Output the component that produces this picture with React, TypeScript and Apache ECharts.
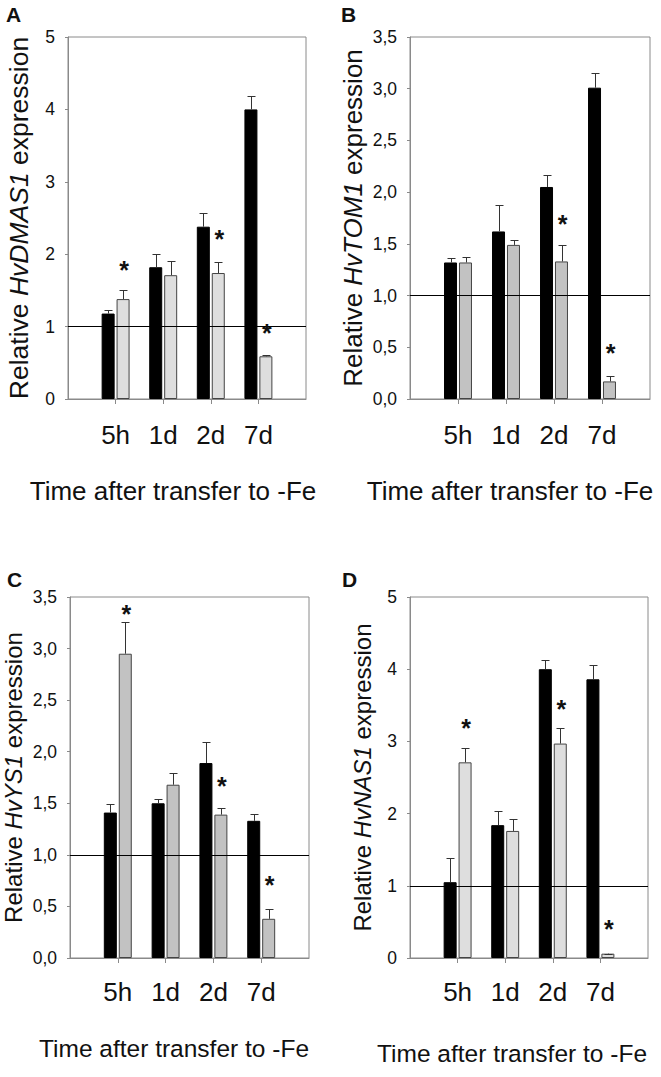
import React, { useEffect, useRef } from "react";
import * as echarts from "echarts";

// ---------- data ----------
const timeLabels = ["5h", "1d", "2d", "7d"];
const xTitle = "Time after transfer to -Fe";

// A: HvDMAS1
const aControl = [1.18, 1.82, 2.38, 4.0];
const aControlErr = [0.05, 0.18, 0.19, 0.18];
const aFe = [1.38, 1.71, 1.74, 0.59];
const aFeErr = [0.13, 0.19, 0.15, 0.02];
const aStar = [1.84, null, 2.27, 0.96];

// B: HvTOM1
const bControl = [1.32, 1.62, 2.05, 3.01];
const bControlErr = [0.045, 0.26, 0.12, 0.145];
const bFe = [1.32, 1.49, 1.33, 0.17];
const bFeErr = [0.055, 0.05, 0.155, 0.055];
const bStar = [null, null, 1.73, 0.48];

// C: HvYS1
const cControl = [1.41, 1.5, 1.89, 1.33];
const cControlErr = [0.085, 0.04, 0.2, 0.065];
const cFe = [2.95, 1.68, 1.39, 0.38];
const cFeErr = [0.31, 0.11, 0.065, 0.095];
const cStar = [3.37, null, 1.71, 0.75];

// D: HvNAS1
const dControl = [1.05, 1.84, 4.0, 3.86];
const dControlErr = [0.34, 0.19, 0.125, 0.205];
const dFe = [2.71, 1.76, 2.97, 0.06];
const dFeErr = [0.205, 0.16, 0.21, 0.0];
const dStar = [3.24, null, 3.5, 0.46];

const referenceLevel = 1;

// ---------- styles / layout ----------
const FONT = '"Liberation Sans", Arial, Helvetica, sans-serif';
const AXIS = "#8a8a8a";
const TEXT = "#111111";
const BAR_W = 13;
const HALF = 7.5; // bar centre offset from category centre

const panels = [
  {
    letter: "A", gene: "HvDMAS1", ctrl: aControl, ctrlErr: aControlErr, fe: aFe, feErr: aFeErr, star: aStar,
    max: 5, interval: 1, decimal: false, feColor: "#dedede",
    left: 68, top: 37, width: 238, height: 362, nameGap: 36, nameSize: 26.5, labelMargin: 23,
    letterX: 6, letterY: 4, titleX: 173, titleY: 491, titleSize: 26,
  },
  {
    letter: "B", gene: "HvTOM1", ctrl: bControl, ctrlErr: bControlErr, fe: bFe, feErr: bFeErr, star: bStar,
    max: 3.5, interval: 0.5, decimal: true, feColor: "#c2c2c2",
    left: 410, top: 37, width: 240, height: 362, nameGap: 44, nameSize: 26, labelMargin: 23,
    letterX: 341, letterY: 4, titleX: 510, titleY: 491, titleSize: 26,
  },
  {
    letter: "C", gene: "HvYS1", ctrl: cControl, ctrlErr: cControlErr, fe: cFe, feErr: cFeErr, star: cStar,
    max: 3.5, interval: 0.5, decimal: true, feColor: "#c2c2c2",
    left: 70, top: 597, width: 239, height: 361, nameGap: 45, nameSize: 24, labelMargin: 21,
    letterX: 7, letterY: 569, titleX: 174, titleY: 1048, titleSize: 24.5,
  },
  {
    letter: "D", gene: "HvNAS1", ctrl: dControl, ctrlErr: dControlErr, fe: dFe, feErr: dFeErr, star: dStar,
    max: 5, interval: 1, decimal: false, feColor: "#dedede",
    left: 410, top: 597, width: 238, height: 361, nameGap: 36, nameSize: 24, labelMargin: 21,
    letterX: 342, letterY: 569, titleX: 512, titleY: 1053, titleSize: 24.5,
  },
];

const errRender = (offset: number) => (_params: any, api: any) => {
  const i = api.value(0);
  const v = api.value(1);
  const e = api.value(2);
  const base = api.coord([i, v]);
  const top = api.coord([i, v + e]);
  const x = Math.round(base[0] + offset) + 0.5;
  const yT = Math.round(top[1]) + 0.5;
  return {
    type: "group",
    children: [
      { type: "line", shape: { x1: x, y1: base[1], x2: x, y2: yT }, style: { stroke: "#333", lineWidth: 1 } },
      { type: "line", shape: { x1: x - 4, y1: yT, x2: x + 4, y2: yT }, style: { stroke: "#333", lineWidth: 1 } },
    ],
  };
};

const starRender = (_params: any, api: any) => {
  const p = api.coord([api.value(0), api.value(1)]);
  return {
    type: "text",
    x: p[0] + HALF + 1,
    y: p[1] + 4,
    style: {
      text: "*",
      font: `bold 25px ${FONT}`,
      fill: TEXT,
      textAlign: "center",
      textVerticalAlign: "middle",
    },
  };
};

export default function App() {
  const ref = useRef<HTMLDivElement>(null);

  useEffect(() => {
    document.body.style.margin = "0";
    if (!ref.current) return;
    const chart = echarts.init(ref.current, undefined, { renderer: "svg" });

    const grid: any[] = [];
    const xAxis: any[] = [];
    const yAxis: any[] = [];
    const series: any[] = [];
    const graphic: any[] = [];

    panels.forEach((p, k) => {
      grid.push({
        left: p.left, top: p.top, width: p.width, height: p.height,
        show: true, borderColor: AXIS, borderWidth: 1, backgroundColor: "transparent",
      });
      xAxis.push({
        type: "category",
        gridIndex: k,
        data: ["", ...timeLabels, ""],
        boundaryGap: false,
        axisLine: { lineStyle: { color: AXIS, width: 1 } },
        axisTick: {
          length: 5,
          lineStyle: { color: AXIS },
          interval: (i: number) => i >= 1 && i <= timeLabels.length,
        },
        axisLabel: { interval: 0, margin: p.labelMargin, fontSize: 26, color: TEXT, fontFamily: FONT },
        splitLine: { show: false },
      });
      yAxis.push({
        type: "value",
        gridIndex: k,
        min: 0,
        max: p.max,
        interval: p.interval,
        axisLine: { show: true, lineStyle: { color: AXIS, width: 1 } },
        axisTick: { show: true, length: 3, lineStyle: { color: AXIS } },
        splitLine: { show: false },
        axisLabel: {
          margin: 13,
          fontSize: 17.5,
          color: TEXT,
          fontFamily: FONT,
          formatter: (v: number) => (p.decimal ? v.toFixed(1).replace(".", ",") : String(Math.round(v))),
        },
        name: `{n|Relative }{i|${p.gene}}{n| expression}`,
        nameLocation: "middle",
        nameGap: p.nameGap,
        nameTextStyle: {
          rich: {
            n: { fontSize: p.nameSize, fontFamily: FONT, color: TEXT },
            i: { fontSize: p.nameSize, fontFamily: FONT, color: TEXT, fontStyle: "italic" },
          },
        },
      });

      series.push({
        type: "bar",
        name: "control",
        xAxisIndex: k,
        yAxisIndex: k,
        barWidth: BAR_W,
        barGap: "15%",
        data: p.ctrl.map((v, i) => [i + 1, v]),
        itemStyle: { color: "#000", borderColor: "#000", borderWidth: 1 },
        markLine: {
          silent: true,
          symbol: "none",
          data: [{ yAxis: referenceLevel }],
          lineStyle: { color: "#000", width: 1, type: "solid" },
          label: { show: false },
        },
      });
      series.push({
        type: "bar",
        name: "-Fe",
        xAxisIndex: k,
        yAxisIndex: k,
        barWidth: BAR_W,
        barGap: "15%",
        data: p.fe.map((v, i) => [i + 1, v]),
        itemStyle: { color: p.feColor, borderColor: "#444", borderWidth: 1 },
      });
      series.push({
        type: "custom",
        xAxisIndex: k,
        yAxisIndex: k,
        renderItem: errRender(-HALF),
        data: p.ctrl.map((v, i) => [i + 1, v, p.ctrlErr[i]]),
        z: 5,
      });
      series.push({
        type: "custom",
        xAxisIndex: k,
        yAxisIndex: k,
        renderItem: errRender(HALF),
        data: p.fe.map((v, i) => [i + 1, v, p.feErr[i]]),
        z: 5,
      });
      const stars: number[][] = [];
      p.star.forEach((s, i) => {
        if (s !== null) stars.push([i + 1, s as number]);
      });
      series.push({
        type: "custom",
        xAxisIndex: k,
        yAxisIndex: k,
        renderItem: starRender,
        data: stars,
        z: 6,
      });

      graphic.push({
        type: "text",
        left: p.letterX,
        top: p.letterY,
        style: { text: p.letter, font: `bold 21px ${FONT}`, fill: TEXT },
      });
      graphic.push({
        type: "text",
        x: p.titleX,
        y: p.titleY,
        style: {
          text: xTitle,
          font: `${p.titleSize}px ${FONT}`,
          fill: TEXT,
          textAlign: "center",
          textVerticalAlign: "middle",
        },
      });
    });

    chart.setOption({
      animation: false,
      backgroundColor: "#ffffff",
      textStyle: { fontFamily: FONT },
      grid,
      xAxis,
      yAxis,
      series,
      graphic,
    });

    return () => chart.dispose();
  }, []);

  return <div ref={ref} style={{ width: 661, height: 1077 }} />;
}
